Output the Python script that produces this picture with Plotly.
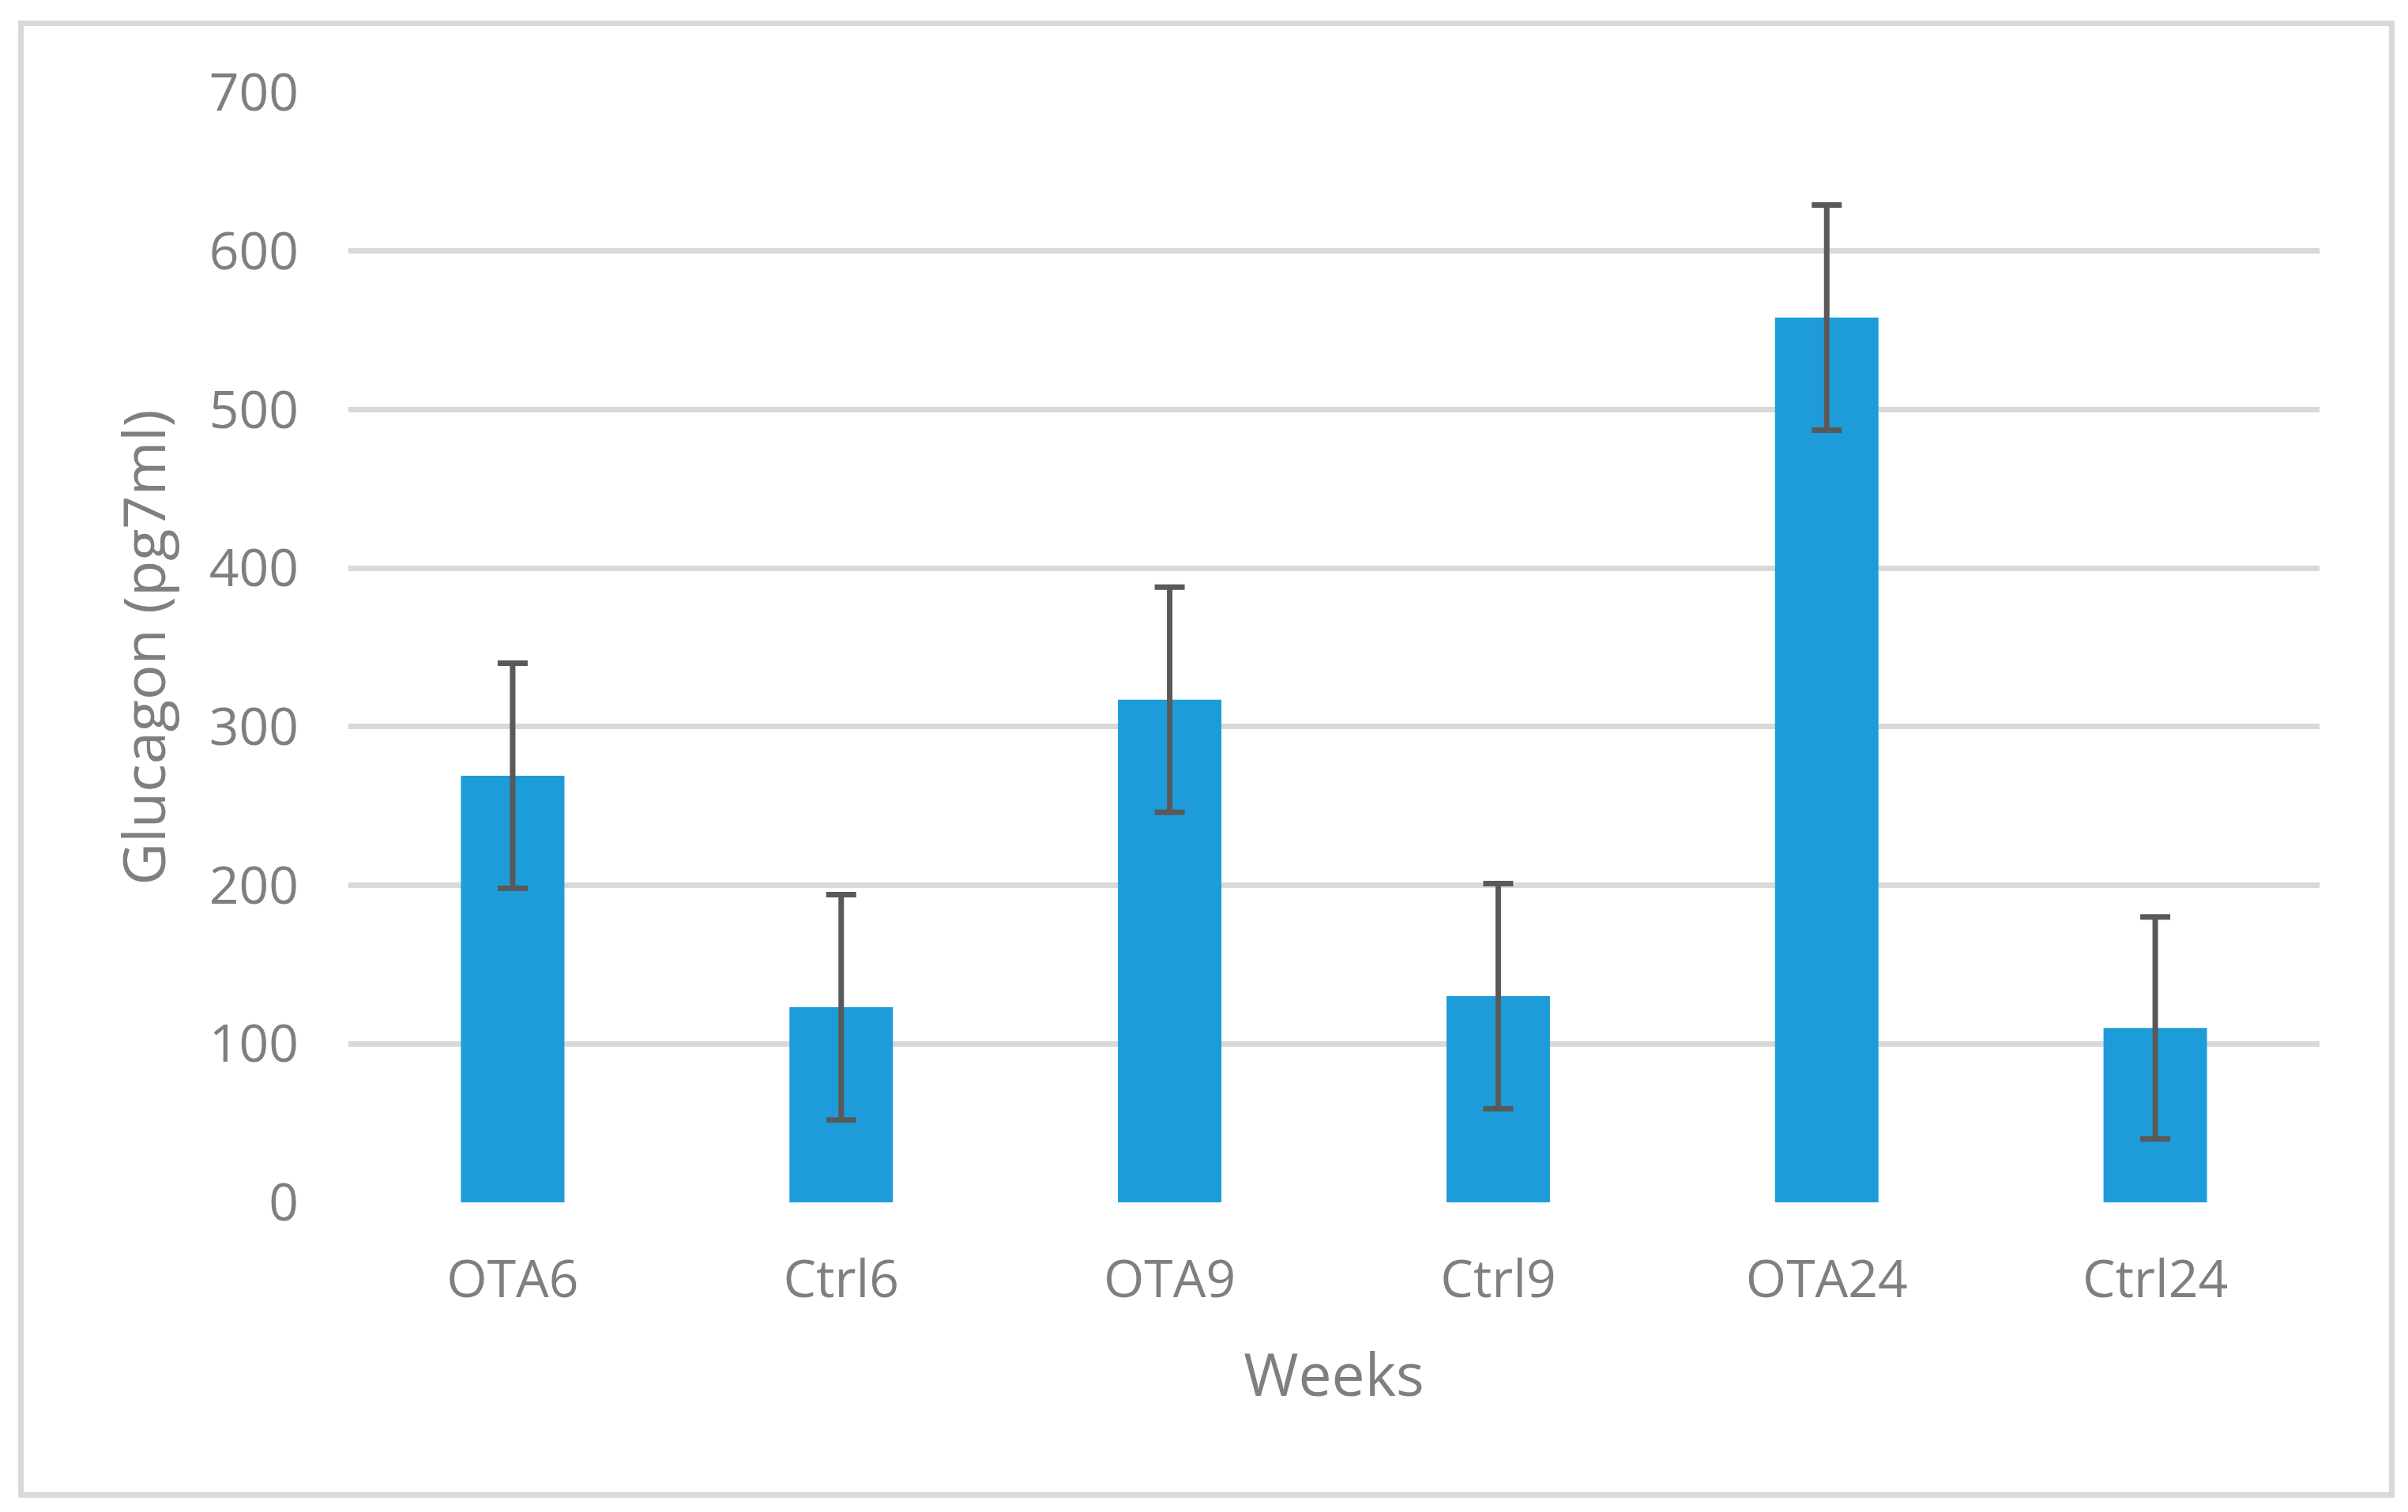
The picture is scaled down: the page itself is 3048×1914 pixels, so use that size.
import plotly.graph_objects as go

categories = ["OTA6", "Ctrl6", "OTA9", "Ctrl9", "OTA24", "Ctrl24"]
glucagon = [269, 123, 317, 130, 558, 110]
errors = [71, 71, 71, 71, 71, 70]
y_ticks = [0, 100, 200, 300, 400, 500, 600, 700]

OFF = 8  # default page body margin
W, H = 3048 - OFF, 1914 - OFF
L, R, T, B = 441 - OFF, 112, 117 - OFF, 392
GRAY = "#7f7f7f"
FONT = "Open Sans, Noto Sans, sans-serif"

fig = go.Figure()
fig.add_trace(go.Bar(
    x=categories, y=glucagon,
    marker=dict(color="#1e9cd9", line=dict(width=0)),
    width=0.315,
    error_y=dict(type="data", array=errors, visible=True,
                 color="#595959", thickness=7, width=19),
    showlegend=False,
))

pw, ph = W - L - R, H - T - B
def px_x(v):
    return (v - OFF - L) / pw
def px_y(v):
    return 1 - (v - OFF - T) / ph

fig.update_layout(
    width=W, height=H,
    margin=dict(l=L, r=R, t=T, b=B, autoexpand=False),
    paper_bgcolor="white", plot_bgcolor="white",
    font=dict(family=FONT, color=GRAY),
    xaxis=dict(
        showgrid=False, zeroline=False, showline=False,
        tickfont=dict(size=66, color=GRAY, family=FONT),
        ticklabelstandoff=53,
        title=dict(text="Weeks", font=dict(size=75, color=GRAY, family=FONT), standoff=54),
        automargin=False,
    ),
    yaxis=dict(
        range=[0, 700], tickvals=y_ticks,
        showgrid=True, gridcolor="#d9d9d9", gridwidth=7,
        zeroline=False, showline=False,
        tickfont=dict(size=66, color=GRAY, family=FONT),
        ticklabelstandoff=62,
        title=dict(text="Glucagon (pg7ml)", font=dict(size=74, color=GRAY, family=FONT), standoff=30),
        automargin=False,
    ),
    shapes=[dict(
        type="rect", xref="paper", yref="paper",
        x0=px_x(26.5), x1=px_x(3027.5), y0=px_y(1892.5), y1=px_y(29.5),
        line=dict(color="#d9d9d9", width=7), fillcolor="rgba(0,0,0,0)", layer="below",
    )],
)

fig.write_html("out.html")
